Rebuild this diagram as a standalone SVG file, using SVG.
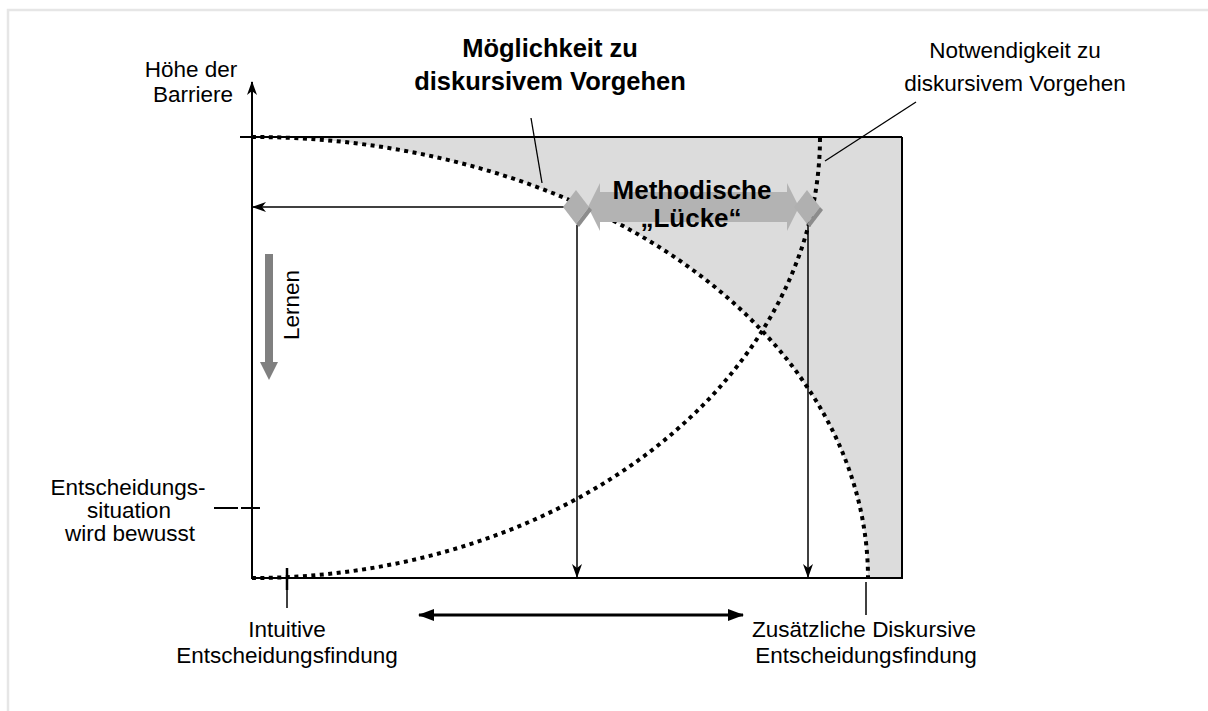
<svg xmlns="http://www.w3.org/2000/svg" width="1208" height="711" viewBox="0 0 1208 711">
  <style>
    .lbl { font-family: "Liberation Sans", Arial, sans-serif; font-size: 22.5px; fill: #000; text-anchor: middle; }
    .bold { font-family: "Liberation Sans", Arial, sans-serif; font-weight: bold; fill: #000; text-anchor: middle; }
    .thin { stroke: #000; stroke-width: 1.5; fill: none; }
    .frame { stroke: #000; stroke-width: 2; fill: none; }
    .dots { stroke: #000; stroke-width: 4; stroke-dasharray: 4 4.5; fill: none; }
    .lead { stroke: #000; stroke-width: 1.3; fill: none; }
  </style>
  <defs>
    <marker id="stealth" viewBox="0 0 14 10" refX="13" refY="5" markerWidth="14" markerHeight="10" markerUnits="userSpaceOnUse" orient="auto">
      <path d="M0,0 L14,5 L0,10 L4,5 Z" fill="#000"/>
    </marker>
    <marker id="solid" viewBox="0 0 16 12" refX="15" refY="6" markerWidth="16" markerHeight="12" markerUnits="userSpaceOnUse" orient="auto-start-reverse">
      <path d="M0,0 L16,6 L0,12 Z" fill="#000"/>
    </marker>
  </defs>

  <!-- outer page frame -->
  <path d="M8,711 V10 H1208" stroke="#e6e6e6" stroke-width="2.5" fill="none"/>

  <!-- shaded region above the possibility curve -->
  <g id="shade">
    <path d="M252,137 A616,441 0 0,1 868,578 L902,578 L902,137 Z" fill="#dcdcdc"/>
  </g>

  <!-- chart frame and axes -->
  <g id="axes">
    <line class="frame" x1="240" y1="137" x2="902" y2="137"/>
    <line class="frame" x1="902" y1="137" x2="902" y2="579"/>
    <line class="frame" x1="252" y1="578" x2="903" y2="578"/>
    <line class="frame" x1="252" y1="579" x2="252" y2="82" marker-end="url(#stealth)"/>
    <line class="frame" x1="214" y1="508" x2="238" y2="508"/>
    <line class="frame" x1="241" y1="508" x2="260" y2="508"/>
    <line x1="287" y1="568" x2="287" y2="590" stroke="#000" stroke-width="2.5"/>
    <line class="thin" x1="287" y1="590" x2="287" y2="608"/>
    <line class="thin" x1="866" y1="582" x2="866" y2="615"/>
  </g>

  <!-- barrier curves -->
  <g id="curves">
    <path id="possibility" class="dots" d="M252,137 A616,441 0 0,1 868,578"/>
    <path id="necessity" class="dots" d="M252,578 A568,441 0 0,0 820,137"/>
  </g>

  <g id="connectors">
    <line class="thin" x1="566" y1="207" x2="253" y2="207" marker-end="url(#stealth)"/>
    <line class="thin" x1="577" y1="225" x2="577" y2="577" marker-end="url(#stealth)"/>
    <line class="thin" x1="808" y1="225" x2="808" y2="577" marker-end="url(#stealth)"/>
    <line class="lead" x1="531" y1="118" x2="542" y2="183"/>
    <line class="lead" x1="916" y1="102" x2="825" y2="161"/>
    <line x1="419" y1="615" x2="743" y2="615" stroke="#000" stroke-width="3" marker-start="url(#solid)" marker-end="url(#solid)"/>
  </g>

  <!-- methodical gap arrow -->
  <g id="gap">
    <path d="M588,207 L600,183 L600,192 L787,192 L787,183 L799,207 L787,231 L787,222 L600,222 L600,231 Z" fill="#b3b3b3"/>
    <text class="bold" x="692" y="199" font-size="26">Methodische</text>
    <text class="bold" x="691" y="227" font-size="26">„Lücke“</text>
  </g>

  <!-- intersection markers -->
  <g id="marker-left">
    <polygon points="576,190 589,207 576,224 563,207" fill="#b0b0b0"/>
    <polygon points="589,207 592,210 579,227 576,224" fill="#8c8c8c"/>
  </g>
  <g id="marker-right">
    <polygon points="807,190 820,207 807,224 794,207" fill="#b0b0b0"/>
    <polygon points="820,207 823,210 810,227 807,224" fill="#8c8c8c"/>
  </g>

  <!-- learning arrow -->
  <g id="learning">
    <rect x="265" y="254" width="8" height="109" fill="#808080"/>
    <polygon points="260,362 278,362 269,380" fill="#808080"/>
    <text class="lbl" font-size="26" transform="translate(299,305) rotate(-90)">Lernen</text>
  </g>

  <g id="title-possibility">
    <text class="bold" x="550" y="57" font-size="25.5">Möglichkeit zu</text>
    <text class="bold" x="550" y="90" font-size="25.5">diskursivem Vorgehen</text>
  </g>
  <g id="label-necessity">
    <text class="lbl" x="1015" y="58" font-size="26">Notwendigkeit zu</text>
    <text class="lbl" x="1015" y="91" font-size="26">diskursivem Vorgehen</text>
  </g>
  <g id="label-yaxis">
    <text class="lbl" x="191" y="77">Höhe der</text>
    <text class="lbl" x="193" y="102">Barriere</text>
  </g>
  <g id="label-awareness">
    <text class="lbl" x="128" y="495">Entscheidungs-</text>
    <text class="lbl" x="129" y="518">situation</text>
    <text class="lbl" x="130" y="541">wird bewusst</text>
  </g>
  <g id="label-intuitive">
    <text class="lbl" x="287" y="637">Intuitive</text>
    <text class="lbl" x="287" y="663">Entscheidungsfindung</text>
  </g>
  <g id="label-discursive">
    <text class="lbl" x="864" y="637">Zusätzliche Diskursive</text>
    <text class="lbl" x="866" y="663">Entscheidungsfindung</text>
  </g>
</svg>
